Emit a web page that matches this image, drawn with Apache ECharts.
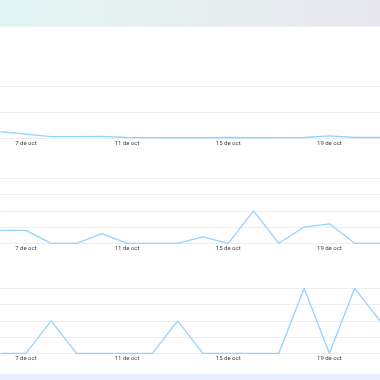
<!DOCTYPE html>
<html><head><meta charset="utf-8">
<script src="https://cdn.jsdelivr.net/npm/echarts@6/dist/echarts.min.js"></script>
<style>html,body{margin:0;padding:0;background:#fff}#c{width:380px;height:380px}</style>
</head><body><div id="c"></div>
<script>
const categories = ["6 de oct","7 de oct","8 de oct","9 de oct","10 de oct","11 de oct","12 de oct","13 de oct","14 de oct","15 de oct","16 de oct","17 de oct","18 de oct","19 de oct","20 de oct","21 de oct"];
const series1 = [0.24,0.15,0.05,0.05,0.06,0.02,0.01,0.01,0.01,0.02,0.01,0.01,0.02,0.08,0.02,0.02];
const series2 = [0.8,0.8,0,0,0.6,0,0,0,0.4,0,2,0,1,1.2,0,0];
const series3 = [0,0,2,0,0,0,0,2,0,0,0,0,4,0,4,2];
const yMax = [2,4,4];

const chart = echarts.init(document.getElementById('c'), null, {renderer:'canvas'});
const grids = [
  {left:0.6, width:381, top:86, height:52},
  {left:0.6, width:381, top:178.3, height:65},
  {left:0.6, width:381, top:288.3, height:65}
];
const lineColor = '#92d4fd';
const xAxes = grids.map((g,i)=>({
  type:'category', gridIndex:i, data:categories, boundaryGap:false,
  axisLine:{show:false}, axisTick:{show:false},
  axisLabel:{interval:(idx)=> (idx-1)%4===0, fontSize:6, color:'#444', margin:2, fontFamily:'Roboto'}
}));
const yAxes = grids.map((g,i)=>({
  type:'value', gridIndex:i, min:0, max:yMax[i], interval:1,
  axisLabel:{show:false}, axisLine:{show:false}, axisTick:{show:false},
  splitLine:{lineStyle:{color:'#eeeeee', width:1}}
}));
const data = [series1, series2, series3];
chart.setOption({
  animation:false,
  grid:grids,
  xAxis:xAxes,
  yAxis:yAxes,
  graphic:[
    {type:'rect', shape:{x:0,y:0,width:380,height:26}, silent:true,
     style:{fill:new echarts.graphic.LinearGradient(0,0,1,0,[{offset:0,color:'#e1f4f3'},{offset:0.5,color:'#e6eeee'},{offset:1,color:'#e8e7ef'}])}},
    {type:'rect', shape:{x:0,y:26,width:380,height:1}, silent:true, style:{fill:'#f1f3f6'}},
    {type:'rect', shape:{x:0,y:374,width:380,height:6}, silent:true, style:{fill:'#e5eefb'}}
  ],
  series:data.map((d,i)=>({
    type:'line', xAxisIndex:i, yAxisIndex:i, data:d, symbol:'none',
    lineStyle:{color:lineColor, width:1.3}
  }))
});
</script></body></html>
